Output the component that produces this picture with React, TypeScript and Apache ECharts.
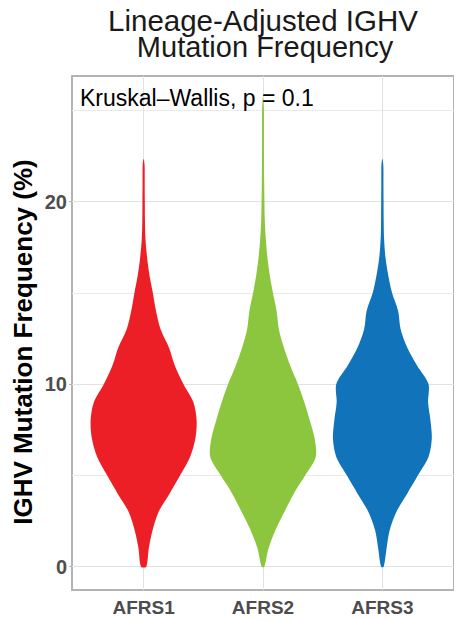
import React, { useEffect, useRef } from "react";
import * as echarts from "echarts";

const categories = ["AFRS1", "AFRS2", "AFRS3"];
const violinColors = ["#ED1F26", "#8CC63F", "#1174BB"];

// Density sampling levels (IGHV mutation frequency, %)
const densityY = [0, 1, 2, 3, 4, 5, 6, 7, 8, 9, 10, 11, 12, 13, 14, 15, 16, 17, 18, 19, 20, 21, 22, 23, 24, 25];

// Violin half-widths (in category units) at each density level
const afrs1HalfWidth = [0.022, 0.043, 0.075, 0.125, 0.217, 0.306, 0.389, 0.433, 0.444, 0.417, 0.333, 0.262, 0.212, 0.142, 0.104, 0.077, 0.048, 0.028, 0.015, 0.011, 0.01, 0.009, 0.008];
const afrs2HalfWidth = [0.011, 0.046, 0.104, 0.179, 0.258, 0.354, 0.442, 0.433, 0.392, 0.346, 0.292, 0.229, 0.175, 0.133, 0.114, 0.083, 0.056, 0.036, 0.023, 0.015, 0.012, 0.01, 0.009, 0.008, 0.008, 0.0075];
const afrs3HalfWidth = [0.011, 0.035, 0.061, 0.117, 0.208, 0.298, 0.386, 0.414, 0.403, 0.383, 0.386, 0.292, 0.208, 0.153, 0.132, 0.081, 0.048, 0.025, 0.014, 0.011, 0.01, 0.009, 0.008];

// Maximum observed value per group (violin tip)
const maxValues = [22.35, 25.7, 22.35];

const yTickValues = [0, 10, 20];
const yGridValues = [0, 5, 10, 15, 20, 25];
const xTickValues = [1, 2, 3];

const titleLines = ["Lineage-Adjusted IGHV", "Mutation Frequency"];

const halfWidths = [afrs1HalfWidth, afrs2HalfWidth, afrs3HalfWidth];
const FONT = "'Liberation Sans', Arial, sans-serif";

export default function App() {
  const ref = useRef<HTMLDivElement | null>(null);

  useEffect(() => {
    if (!ref.current) return;
    const chart = echarts.init(ref.current, null, { renderer: "svg" });

    const gridMarks: any[] = [
      ...yGridValues.map((v) => ({
        yAxis: v,
        lineStyle: { color: v % 10 === 0 ? "#e2e2e2" : "#eaeaea", width: 1, type: "solid" },
      })),
      ...xTickValues.map((v) => ({
        xAxis: v,
        lineStyle: { color: "#e2e2e2", width: 1, type: "solid" },
      })),
    ];

    const option: any = {
      animation: false,
      backgroundColor: "#ffffff",
      grid: {
        left: 72,
        top: 76,
        width: 382,
        height: 514,
        show: true,
        borderColor: "#b3b3b3",
        borderWidth: 2,
        backgroundColor: "#ffffff",
      },
      xAxis: {
        type: "value",
        min: 0.4,
        max: 3.6,
        axisLine: { show: false },
        splitLine: { show: false },
        axisTick: {
          show: true,
          customValues: xTickValues,
          length: 3,
          lineStyle: { color: "#b3b3b3", width: 1 },
        },
        axisLabel: {
          customValues: xTickValues,
          formatter: (v: number) => categories[Math.round(v) - 1] ?? "",
          color: "#4d4d4d",
          fontFamily: FONT,
          fontWeight: "bold",
          fontSize: 19,
          margin: 8,
        },
      },
      yAxis: {
        type: "value",
        min: -1.28,
        max: 26.88,
        axisLine: { show: false },
        splitLine: { show: false },
        axisTick: {
          show: true,
          customValues: yTickValues,
          length: 3,
          lineStyle: { color: "#b3b3b3", width: 1 },
        },
        axisLabel: {
          customValues: yTickValues,
          color: "#4d4d4d",
          fontFamily: FONT,
          fontWeight: "bold",
          fontSize: 20,
          margin: 5,
        },
      },
      graphic: [
        {
          type: "text",
          x: 263,
          y: 7.5,
          style: {
            text: titleLines[0],
            font: `29.5px ${FONT}`,
            fill: "#1a1a1a",
            textAlign: "center",
            textVerticalAlign: "top",
            lineHeight: 26,
          },
        },
        {
          type: "text",
          x: 265,
          y: 33.5,
          style: {
            text: titleLines[1],
            font: `29px ${FONT}`,
            fill: "#1a1a1a",
            textAlign: "center",
            textVerticalAlign: "top",
            lineHeight: 26,
          },
        },
        {
          type: "text",
          x: 23,
          y: 342,
          rotation: Math.PI / 2,
          style: {
            text: "IGHV Mutation Frequency (%)",
            font: `bold 26px ${FONT}`,
            fill: "#000000",
            textAlign: "center",
            textVerticalAlign: "middle",
          },
        },
        {
          type: "text",
          x: 80,
          y: 86,
          z: 10,
          style: {
            text: "Kruskal\u2013Wallis, p = 0.1",
            font: `23px ${FONT}`,
            fill: "#000000",
            textAlign: "left",
            textVerticalAlign: "top",
          },
        },
      ],
      series: [
        {
          type: "line",
          data: [],
          z: 1,
          silent: true,
          markLine: {
            silent: true,
            symbol: ["none", "none"],
            label: { show: false },
            data: gridMarks,
          },
        },
        {
          type: "custom",
          z: 5,
          data: categories.map((_, i) => [i + 1, maxValues[i]]),
          encode: { x: 0, y: 1 },
          renderItem: (params: any, api: any) => {
            const i = params.dataIndex;
            const center = api.value(0);
            const top = api.value(1);
            const w = halfWidths[i];
            const left: number[][] = [];
            const right: number[][] = [];
            for (let k = 0; k < w.length; k++) {
              left.push(api.coord([center - w[k], densityY[k]]));
              right.push(api.coord([center + w[k], densityY[k]]));
            }
            const tip = api.coord([center, top]);
            const points = [...left, tip, ...right.reverse()];
            return {
              type: "polygon",
              shape: { points, smooth: 0.3 },
              style: { fill: violinColors[i], stroke: "none" },
            };
          },
        },
      ],
    };

    chart.setOption(option);
    return () => chart.dispose();
  }, []);

  return (
    <div
      ref={ref}
      style={{ position: "fixed", left: 0, top: 0, width: 454, height: 621, background: "#fff" }}
    />
  );
}
